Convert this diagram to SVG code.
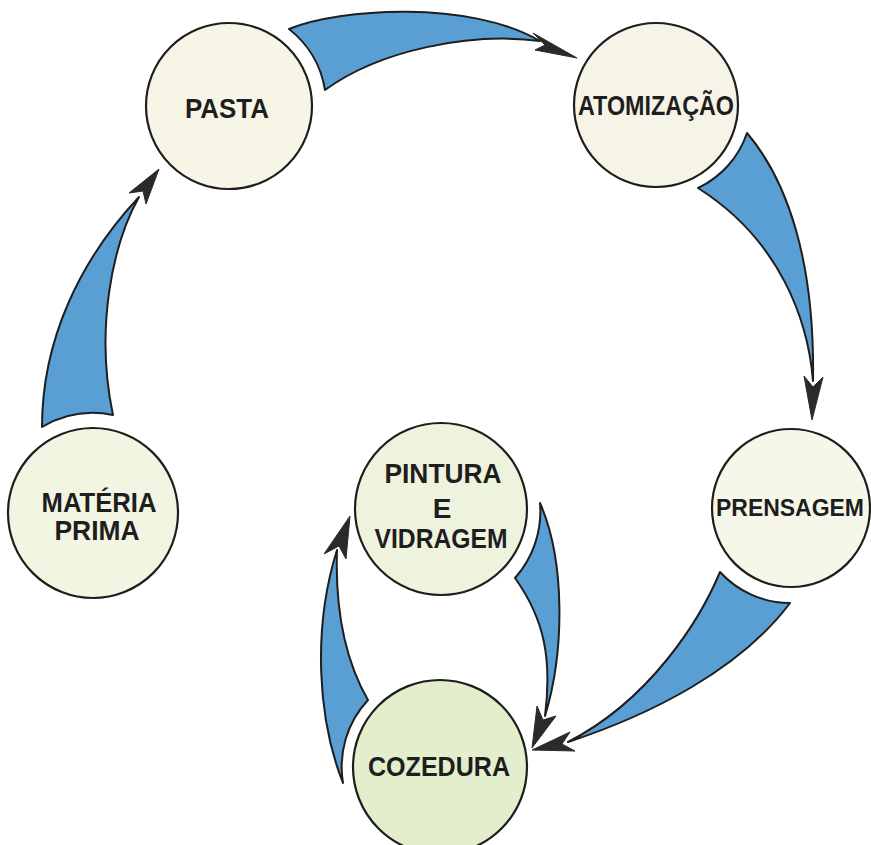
<svg xmlns="http://www.w3.org/2000/svg" width="871" height="845" viewBox="0 0 871 845">
<style>
  .node circle { stroke: #1e1e1e; stroke-width: 2.2; }
  .lbl { font-family: "Liberation Sans", Arial, sans-serif; font-weight: bold; font-size: 28px; fill: #1e1e1e; text-anchor: middle; }
  .body { fill: #5a9fd4; stroke: #1e1e1e; stroke-width: 2; stroke-linejoin: round; }
  .head { fill: #2a2a2a; stroke: #2a2a2a; stroke-width: 1; stroke-linejoin: miter; }
</style>
<rect width="871" height="845" fill="#ffffff"/>
<g id="connectors">
  <g id="c-pasta-atom">
    <path class="body" d="M289,29 C340,8 470,0 540,41 C470,32 380,50 325,90 A97,97 0 0 0 289,29 Z"/>
    <path class="head" d="M577,58 L533,33 L545,45 L535,50 Z"/>
  </g>
  <g id="c-atom-prens">
    <path class="body" d="M747,133 C787,180 815,260 813,381 C808,320 780,240 698,188 A94,94 0 0 0 747,133 Z"/>
    <path class="head" d="M812,420 L804,376 L813,387 L823,377 Z"/>
  </g>
  <g id="c-prens-coz">
    <path class="body" d="M720,572 C700,620 650,700 568,742 C650,715 740,670 790,603 A95,95 0 0 1 720,572 Z"/>
    <path class="head" d="M532,750 L570,732 L562,744 L575,751 Z"/>
  </g>
  <g id="c-mat-pasta">
    <path class="body" d="M42,427 C42,340 80,260 139,197 C112,245 95,330 113,415 A100,100 0 0 0 42,427 Z"/>
    <path class="head" d="M159,169 L129,193 L143,191 L146,204 Z"/>
  </g>
  <g id="c-pint-coz">
    <path class="body" d="M540,503 C565,560 565,650 545,716 C552,660 545,620 515,578 A100,100 0 0 0 540,503 Z"/>
    <path class="head" d="M532,748 L537,706 L543,720 L556,716 Z"/>
  </g>
  <g id="c-coz-pint">
    <path class="body" d="M343,783 C318,720 312,630 337,550 C335,610 345,660 368,700 A98,98 0 0 0 343,783 Z"/>
    <path class="head" d="M350,516 L324,554 L339,546 L346,559 Z"/>
  </g>
</g>
<g id="n-pasta" class="node">
  <circle cx="229" cy="106" r="83" fill="#f6f5e6"/>
  <text class="lbl" x="227" y="118" textLength="84" lengthAdjust="spacingAndGlyphs">PASTA</text>
</g>
<g id="n-atomizacao" class="node">
  <circle cx="656" cy="105" r="82" fill="#f5f4e6"/>
  <text class="lbl" x="656" y="115" textLength="156" lengthAdjust="spacingAndGlyphs">ATOMIZAÇÃO</text>
</g>
<g id="n-prensagem" class="node">
  <circle cx="791" cy="508" r="79" fill="#f6f6e9"/>
  <text class="lbl" x="790" y="516" font-size="24" style="font-size:24px" textLength="148" lengthAdjust="spacingAndGlyphs">PRENSAGEM</text>
</g>
<g id="n-materia" class="node">
  <circle cx="93" cy="513" r="85" fill="#f2f5e1"/>
  <text class="lbl" x="99" y="512" textLength="115" lengthAdjust="spacingAndGlyphs">MATÉRIA</text>
  <text class="lbl" x="97" y="540" textLength="85" lengthAdjust="spacingAndGlyphs">PRIMA</text>
</g>
<g id="n-pintura" class="node">
  <circle cx="441" cy="509" r="86" fill="#eef3dd"/>
  <text class="lbl" x="443" y="483" textLength="117" lengthAdjust="spacingAndGlyphs">PINTURA</text>
  <text class="lbl" x="442" y="518">E</text>
  <text class="lbl" x="441" y="548" textLength="133" lengthAdjust="spacingAndGlyphs">VIDRAGEM</text>
</g>
<g id="n-cozedura" class="node">
  <circle cx="440" cy="767" r="87" fill="#e3eecd"/>
  <text class="lbl" x="439" y="776" textLength="142" lengthAdjust="spacingAndGlyphs">COZEDURA</text>
</g>
</svg>
